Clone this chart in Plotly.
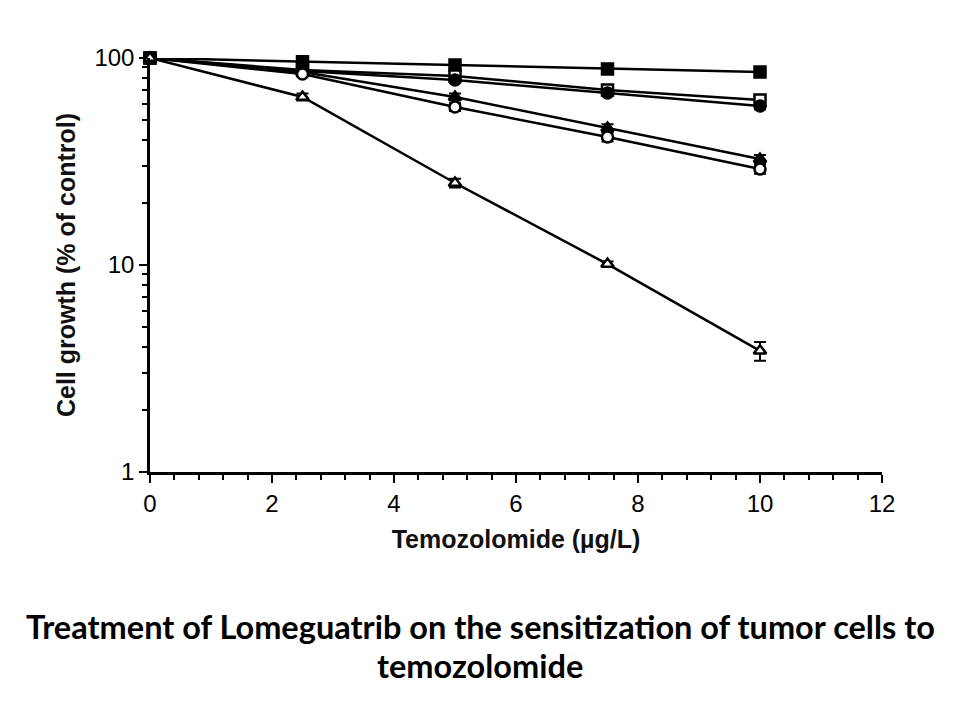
import plotly.graph_objects as go

# ---- data ----
doses = [0, 2.5, 5, 7.5, 10]

series_names = ["Series A", "Series B", "Series C", "Series D", "Series E", "Series F"]
growth_a = [100, 96, 92.5, 88.5, 85.5]   # filled squares
growth_b = [100, 87.5, 81.9, 70.0, 62.7]  # open squares
growth_c = [100, 86.5, 78.3, 67.8, 58.6]  # filled circles
growth_d = [100, 85.5, 64.8, 45.9, 32.5]  # filled triangles
growth_e = [100, 83.7, 58.0, 41.5, 29.1]  # open circles
growth_f = [100, 64.8, 24.9, 10.1, 3.85]  # open triangles

err_a = [1.5, 1.5, 1.5, 1.5, 1.5]
err_b = [1.5, 2.0, 2.0, 2.0, 2.0]
err_c = [1.5, 2.0, 2.0, 2.0, 2.0]
err_d = [1.5, 2.0, 2.5, 2.0, 1.5]
err_e = [1.5, 2.0, 2.5, 2.0, 1.5]
err_f = [1.5, 2.5, 1.2, 0.3, 0.4]

x_ticks = [0, 2, 4, 6, 8, 10, 12]
y_ticks = [1, 10, 100]
y_tick_labels = ["1", "10", "100"]

x_title = "Temozolomide (µg/L)"
y_title = "Cell growth (% of control)"
caption_lines = ["Treatment of Lomeguatrib on the sensitization of tumor cells to", "temozolomide"]

styles = [
    dict(symbol="square", color="black"),
    dict(symbol="square", color="white"),
    dict(symbol="circle", color="black"),
    dict(symbol="triangle-up", color="black"),
    dict(symbol="circle", color="white"),
    dict(symbol="triangle-up", color="white"),
]

all_growth = [growth_a, growth_b, growth_c, growth_d, growth_e, growth_f]
all_err = [err_a, err_b, err_c, err_d, err_e, err_f]

fig = go.Figure()
for name, g, e, st in zip(series_names, all_growth, all_err, styles):
    fig.add_trace(go.Scatter(
        x=doses, y=g, name=name, mode="lines+markers",
        line=dict(color="black", width=2.5),
        marker=dict(symbol=st["symbol"], size=11, color=st["color"],
                    line=dict(color="black", width=2.5)),
        error_y=dict(type="data", array=e, visible=True, color="black",
                     thickness=2, width=6),
        cliponaxis=False,
        showlegend=False,
    ))

FONT = "Liberation Sans, Arial, sans-serif"
axis_font = dict(family=FONT, size=24, color="black")

fig.update_layout(
    width=960, height=720,
    margin=dict(l=150, r=78, t=58, b=248),
    paper_bgcolor="white", plot_bgcolor="white",
    showlegend=False,
    xaxis=dict(
        range=[0, 12], tickvals=x_ticks, ticks="outside", ticklen=8, tickwidth=2,
        tickcolor="black", showline=True, linecolor="black", linewidth=2.5,
        showgrid=False, zeroline=False, tickfont=axis_font,
        minor=dict(dtick=0.4, ticks="outside", ticklen=5, tickwidth=2, tickcolor="black", showgrid=False),
        title=dict(text="<b>" + x_title + "</b>", font=dict(family=FONT, size=25, color="#111"), standoff=15),
    ),
    yaxis=dict(
        type="log", range=[0, 2], tickvals=y_ticks, ticktext=y_tick_labels,
        ticks="outside", ticklen=8, tickwidth=2, tickcolor="black",
        showline=True, linecolor="black", linewidth=2.5, showgrid=False,
        zeroline=False, tickfont=axis_font,
        minor=dict(tickvals=[2, 3, 4, 5, 6, 7, 8, 9, 20, 30, 40, 50, 60, 70, 80, 90],
                   ticks="outside", ticklen=5, tickwidth=2, tickcolor="black", showgrid=False),
        title=dict(text="<b>" + y_title + "</b>", font=dict(family=FONT, size=25, color="#111"), standoff=12),
    ),
)

# caption lines, centred on the page
caption_y = [-0.3720, -0.467]
for line, yy in zip(caption_lines, caption_y):
    fig.add_annotation(
        text="<b>" + line + "</b>",
        xref="paper", yref="paper", x=(480 - 150) / 732, y=yy,
        xanchor="center", yanchor="middle", showarrow=False,
        font=dict(family="Lato, Calibri, sans-serif", size=32.5, color="black"),
    )

fig.write_html("out.html")
